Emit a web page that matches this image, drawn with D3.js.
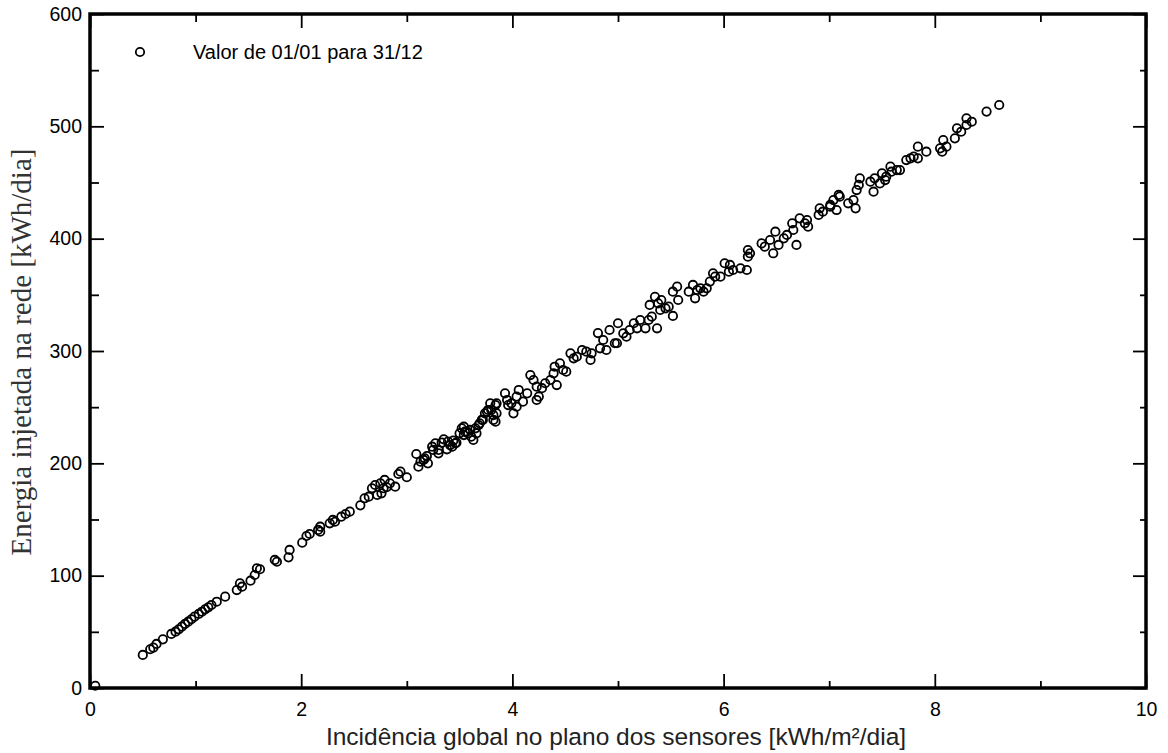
<!DOCTYPE html>
<html>
<head>
<meta charset="utf-8">
<script src="https://cdn.jsdelivr.net/npm/d3@7"></script>
<style>
  body { margin: 0; background: #fff; }
  svg { display: block; }
</style>
</head>
<body>
<script>
// incidência diária [kWh/m²/dia] e energia injetada [kWh/dia]
let incidencia = [
  0.05, 0.50, 0.57, 0.60, 0.63, 0.69, 0.77, 0.81, 0.84, 0.87, 0.90, 0.93, 0.96, 0.99, 1.03, 1.06, 1.09, 1.12, 1.15, 1.20,
  1.28, 1.39, 1.44, 1.42, 1.52, 1.56, 1.61, 1.58, 1.77, 1.75, 1.88, 1.89, 2.01, 2.05, 2.08, 2.16, 2.18, 2.18, 2.27, 2.30,
  2.32, 2.38, 2.42, 2.46, 2.56, 2.60, 2.64, 2.67, 2.70, 2.75, 2.79, 2.81, 2.76, 2.72, 2.84, 2.89, 2.78, 2.94, 2.92, 3.00,
  3.09, 3.13, 3.11, 3.17, 3.20, 3.19, 3.24, 3.27, 3.25, 3.30, 3.33, 3.38, 3.35, 3.39, 3.44, 3.43, 3.47, 3.16, 3.30, 3.41,
  3.46, 3.50, 3.54, 3.57, 3.60, 3.61, 3.63, 3.66, 3.65, 3.69, 3.71, 3.74, 3.76, 3.80, 3.79, 3.82, 3.85, 3.85, 3.84, 3.52,
  3.55, 3.58, 3.54, 3.68, 3.72, 3.77, 3.82, 3.84, 3.96, 3.99, 4.01, 4.04, 4.10, 4.23, 3.93, 3.95, 4.04, 4.06, 4.14, 4.17,
  4.20, 4.23, 4.25, 4.28, 4.31, 4.36, 4.39, 4.42, 4.40, 4.45, 4.48, 4.51, 4.55, 4.58, 4.61, 4.66, 4.70, 4.74, 4.75, 4.83,
  4.86, 4.89, 4.81, 4.92, 4.99, 5.00, 4.97, 5.05, 5.08, 5.11, 5.15, 5.18, 5.21, 5.26, 5.29, 5.32, 5.37, 5.35, 5.38, 5.41,
  5.45, 5.48, 5.52, 5.30, 5.40, 5.52, 5.56, 5.57, 5.67, 5.71, 5.73, 5.75, 5.78, 5.81, 5.84, 5.87, 5.90, 5.92, 5.97, 6.01,
  6.06, 6.05, 6.09, 6.16, 6.22, 6.23, 6.23, 6.25, 6.36, 6.39, 6.44, 6.49, 6.47, 6.52, 6.57, 6.60, 6.65, 6.69, 6.66, 6.72,
  6.77, 6.80, 6.79, 6.90, 6.91, 6.94, 7.01, 7.04, 7.07, 7.09, 7.10, 7.18, 7.01, 7.23, 7.25, 7.26, 7.28, 7.29, 7.39, 7.42,
  7.43, 7.48, 7.50, 7.53, 7.54, 7.58, 7.59, 7.64, 7.67, 7.73, 7.77, 7.80, 7.84, 7.84, 7.92, 8.05, 8.07, 8.08, 8.11, 8.19,
  8.21, 8.25, 8.30, 8.30, 8.35, 8.49, 8.61
];
let energia = [
  2, 29.4, 34.5, 35.9, 39.2, 43.3, 48.1, 50.1, 52.2, 54.6, 57.0, 59.0, 61.2, 63.5, 65.9, 67.9, 70.0, 71.8, 73.9, 76.8,
  81.3, 87.2, 90.2, 93.2, 95.5, 100.6, 105.7, 106.6, 112.4, 114, 116.3, 122.9, 129.4, 135.3, 137.1, 140.7, 143.6, 139.2, 146.6, 149.6,
  148, 152.5, 154.9, 157, 162.6, 168.9, 170.3, 177.8, 180.7, 182.2, 185.2, 178.7, 173.3, 171.8, 182.2, 179.2, 177.8, 192.6, 190.5, 187.6,
  208.3, 201.5, 197, 204.5, 200, 206.5, 214.8, 217.8, 211.9, 211.9, 218.4, 212.5, 221.4, 219.3, 220.2, 214.8, 218.4, 203, 208.9, 216.3,
  217.8, 226.7, 232.6, 228.2, 229.7, 223.7, 220.8, 226.7, 231.2, 235.6, 238.6, 244.5, 246, 247.5, 253.4, 238.6, 253.4, 244.5, 237.1, 231.2,
  228.2, 226.7, 225.2, 234.1, 238.6, 247.5, 243, 251.9, 251.9, 253.4, 244.5, 250.4, 254.9, 256.4, 262.3, 256.4, 259.4, 265.3, 262.3, 278.6,
  274.2, 268.2, 259.4, 266.9, 271.3, 274.2, 280.1, 269.7, 286, 289, 283.1, 281.6, 297.9, 293.5, 294.9, 300.9, 299.4, 292, 297.9, 302.4,
  309.8, 300.9, 316, 318.7, 306.9, 324.7, 306.9, 315.7, 312.7, 318.7, 324.7, 320.2, 327.6, 320.2, 327.6, 330.6, 320.2, 348.3, 342.4, 345.4,
  338, 339.5, 331.2, 341, 336.5, 352.8, 357.3, 345.4, 352.8, 358.8, 346.9, 354.3, 355.8, 352.8, 355.8, 361.8, 369.2, 366.2, 366.2, 378.1,
  376.6, 370.6, 372.1, 373.6, 372.1, 389.9, 384, 387, 395.8, 392.9, 398.8, 406.2, 387, 394.4, 400.3, 403.3, 413.7, 394.4, 407.7, 418.1,
  413.7, 410.7, 416.6, 421.1, 427, 424, 430, 434.4, 425.5, 438.9, 437.4, 431.5, 428.5, 434.4, 427, 443.3, 447.8, 453.7, 450.7, 441.8,
  453.7, 449.2, 458.2, 452.2, 455.2, 464.1, 459.6, 461.1, 461.1, 470, 471.5, 473, 471.5, 481.9, 477.4, 480.4, 477.4, 487.8, 481.9, 489.3,
  498.2, 495.2, 501.2, 507.1, 504.1, 513.1, 519
];
let xTicks = [0, 2, 4, 6, 8, 10];
let xMinor = [1, 3, 5, 7, 9];
let yTicks = [0, 100, 200, 300, 400, 500, 600];
let yMinor = [50, 150, 250, 350, 450, 550];
let legendLabel = "Valor de 01/01 para 31/12";

let W = 1168, H = 753;
let margin = {left: 90, right: 22, top: 14, bottom: 65};
let w = W - margin.left - margin.right;
let h = H - margin.top - margin.bottom;

let svg = d3.select("body").append("svg").attr("width", W).attr("height", H);
let g = svg.append("g").attr("transform", "translate(" + margin.left + "," + margin.top + ")");

let x = d3.scaleLinear().domain([0, 10]).range([0, w]);
let y = d3.scaleLinear().domain([0, 600]).range([h, 0]);

let font = "'Liberation Sans', Arial, sans-serif";

// ticks, all pointing inward on the four sides
function drawAxis(axis, transform) {
  let a = g.append("g").attr("transform", transform).call(axis);
  a.select(".domain").remove();
  a.selectAll("line").attr("stroke", "#000").attr("stroke-width", 1.8);
  a.selectAll("text").attr("font-family", font).attr("font-size", "19.5px").attr("fill", "#000");
  return a;
}

drawAxis(d3.axisBottom(x).tickValues(xTicks).tickSize(-14).tickPadding(14).tickFormat(d3.format("d")), "translate(0," + h + ")");
drawAxis(d3.axisBottom(x).tickValues(xMinor).tickSize(-7).tickFormat(""), "translate(0," + h + ")");
drawAxis(d3.axisTop(x).tickValues(xTicks).tickSize(-14).tickFormat(""), "translate(0,0)");
drawAxis(d3.axisTop(x).tickValues(xMinor).tickSize(-8).tickFormat(""), "translate(0,0)");
drawAxis(d3.axisLeft(y).tickValues(yTicks).tickSize(-14).tickPadding(8).tickFormat(d3.format("d")), "translate(0,0)");
drawAxis(d3.axisLeft(y).tickValues(yMinor).tickSize(-9).tickFormat(""), "translate(0,0)");
drawAxis(d3.axisRight(y).tickValues(yTicks).tickSize(-13).tickFormat(""), "translate(" + w + ",0)");
drawAxis(d3.axisRight(y).tickValues(yMinor).tickSize(-6).tickFormat(""), "translate(" + w + ",0)");

// frame
g.append("rect")
  .attr("x", 0).attr("y", 0).attr("width", w).attr("height", h)
  .attr("fill", "none").attr("stroke", "#000").attr("stroke-width", 3.5);

// points
let pontos = incidencia.map(function(d, i) { return [d, energia[i]]; });
g.selectAll("circle.pt")
  .data(pontos)
  .enter()
  .append("circle")
  .attr("class", "pt")
  .attr("cx", function(d) { return x(d[0]); })
  .attr("cy", function(d) { return y(d[1]); })
  .attr("r", 4.2)
  .attr("fill", "none")
  .attr("stroke", "#000")
  .attr("stroke-width", 1.8);

// legend
g.append("circle").attr("cx", 50).attr("cy", 38).attr("r", 4.2)
  .attr("fill", "none").attr("stroke", "#000").attr("stroke-width", 1.8);
g.append("text").attr("x", 103).attr("y", 45)
  .attr("font-family", font).attr("font-size", "20px").text(legendLabel);

// axis titles
svg.append("text")
  .attr("x", margin.left + w / 2 - 2).attr("y", 745)
  .attr("text-anchor", "middle")
  .attr("font-family", font).attr("font-size", "24.5px").attr("fill", "#222")
  .text("Incidência global no plano dos sensores [kWh/m²/dia]");

svg.append("text")
  .attr("transform", "translate(31," + 352 + ") rotate(-90)")
  .attr("text-anchor", "middle")
  .attr("font-family", "'Liberation Serif', 'Times New Roman', serif").attr("font-size", "29px").attr("fill", "#333")
  .text("Energia injetada na rede [kWh/dia]");
</script>
</body>
</html>
